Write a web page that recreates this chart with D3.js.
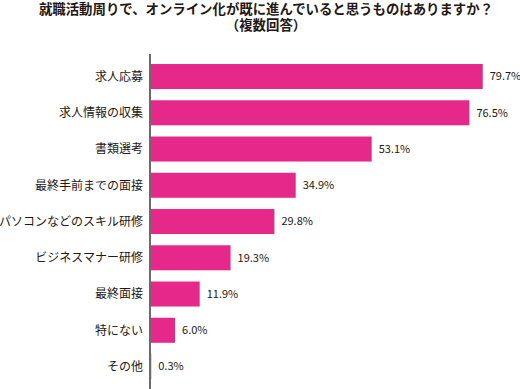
<!DOCTYPE html>
<html>
<head>
<meta charset="utf-8">
<script src="https://cdn.jsdelivr.net/npm/d3@7"></script>
<style>
  body { margin: 0; background: #fff; }
  svg { display: block; font-family: "Noto Sans CJK JP", "Noto Sans", sans-serif; }
</style>
</head>
<body>
<div id="grafico"></div>
<script>
// dados do grafico
const categorias = ["求人応募", "求人情報の収集", "書類選考", "最終手前までの面接", "パソコンなどのスキル研修", "ビジネスマナー研修", "最終面接", "特にない", "その他"];
const valores = [79.7, 76.5, 53.1, 34.9, 29.8, 19.3, 11.9, 6.0, 0.3];
const tituloLinhas = ["就職活動周りで、オンライン化が既に進んでいると思うものはありますか？", "（複数回答）"];

const largura = 520;
const altura = 389;
const corBarra = "#e5288a";
const corTexto = "#231815";

const svg = d3.select("#grafico")
    .append("svg")
    .attr("width", largura)
    .attr("height", altura);

// escalas
const x = d3.scaleLinear().domain([0, 80]).range([150, 484]);
const y = d3.scaleBand()
    .domain(categorias)
    .range([58.4, 384.65])
    .paddingInner(0.31)
    .paddingOuter(0.155);

const dados = categorias.map((c, i) => ({ cat: c, valor: valores[i] }));

// barras
svg.selectAll("rect")
    .data(dados)
    .enter()
    .append("rect")
    .attr("x", x(0))
    .attr("y", d => y(d.cat))
    .attr("width", d => x(d.valor) - x(0))
    .attr("height", y.bandwidth())
    .attr("fill", corBarra);

// linha do eixo
svg.append("line")
    .attr("x1", x(0)).attr("x2", x(0))
    .attr("y1", 54).attr("y2", altura)
    .attr("stroke", "#6e6a6a")
    .attr("stroke-width", 2);

// rotulos das categorias
svg.selectAll(".label-cat")
    .data(dados)
    .enter()
    .append("text")
    .attr("class", "label-cat")
    .attr("x", x(0) - 7)
    .attr("y", d => y(d.cat) + y.bandwidth() / 2)
    .attr("dy", "0.36em")
    .attr("text-anchor", "end")
    .attr("fill", corTexto)
    .style("font-size", "12px")
    .text(d => d.cat);

// valores
svg.selectAll(".label-valor")
    .data(dados)
    .enter()
    .append("text")
    .attr("class", "label-valor")
    .attr("x", d => x(d.valor) + 7)
    .attr("y", d => y(d.cat) + y.bandwidth() / 2)
    .attr("dy", "0.36em")
    .attr("fill", corTexto)
    .style("font-size", "11px")
    .text(d => d.valor.toFixed(1) + "%");

// titulo
svg.selectAll(".titulo")
    .data(tituloLinhas)
    .enter()
    .append("text")
    .attr("class", "titulo")
    .attr("x", 266)
    .attr("y", (d, i) => 14 + i * 16)
    .attr("text-anchor", "middle")
    .attr("fill", corTexto)
    .style("font-size", "13.4px")
    .style("font-weight", "bold")
    .text(d => d);
</script>
</body>
</html>
